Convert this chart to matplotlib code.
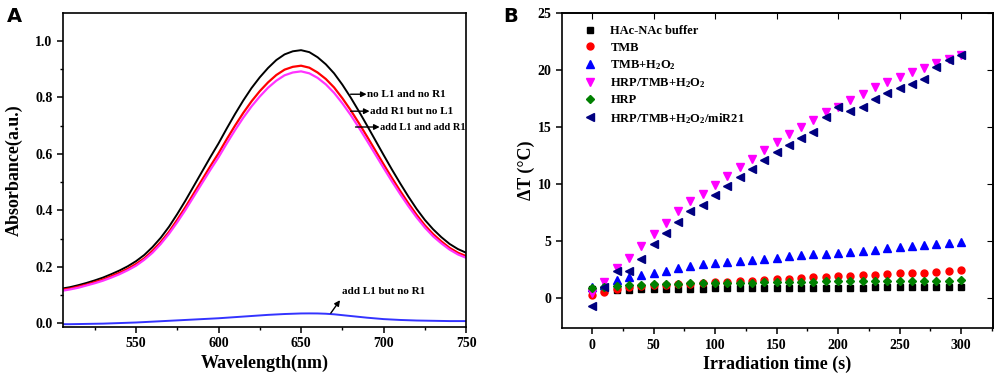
import numpy as np
import matplotlib
matplotlib.use("Agg")
import matplotlib.pyplot as plt
from matplotlib.ticker import MultipleLocator

plt.rcParams.update({"font.family": "Liberation Serif", "font.weight": "bold",
                     "axes.labelweight": "bold", "mathtext.fontset": "custom",
                     "mathtext.rm": "Liberation Serif:bold", "mathtext.default": "rm",
                     "axes.linewidth": 1.2})

# ---- panel A: absorbance spectra (every 5 nm) ----
wl = [506] + list(range(510, 751, 5))
abs_none = [0.124, 0.128, 0.135, 0.143, 0.152, 0.162, 0.174, 0.187, 0.202, 0.220,
            0.242, 0.270, 0.303, 0.342, 0.387, 0.435, 0.486, 0.537, 0.588, 0.637,
            0.690, 0.741, 0.789, 0.833, 0.871, 0.904, 0.932, 0.952, 0.963, 0.967,
            0.960, 0.942, 0.917, 0.885, 0.845, 0.800, 0.751, 0.700, 0.648, 0.596,
            0.545, 0.496, 0.449, 0.405, 0.366, 0.333, 0.305, 0.281, 0.263, 0.250]
abs_r1 = [0.120, 0.123, 0.130, 0.137, 0.146, 0.155, 0.167, 0.179, 0.193, 0.210,
          0.230, 0.257, 0.288, 0.324, 0.367, 0.412, 0.460, 0.508, 0.556, 0.602,
          0.652, 0.700, 0.745, 0.786, 0.822, 0.853, 0.879, 0.898, 0.908, 0.912,
          0.905, 0.888, 0.865, 0.835, 0.797, 0.755, 0.709, 0.661, 0.612, 0.563,
          0.515, 0.469, 0.425, 0.384, 0.347, 0.316, 0.290, 0.267, 0.250, 0.238]
abs_l1r1 = [0.116, 0.120, 0.126, 0.134, 0.142, 0.151, 0.162, 0.174, 0.188, 0.204,
            0.225, 0.250, 0.281, 0.317, 0.358, 0.402, 0.449, 0.496, 0.543, 0.588,
            0.637, 0.684, 0.728, 0.768, 0.803, 0.834, 0.859, 0.878, 0.888, 0.892,
            0.885, 0.869, 0.846, 0.816, 0.779, 0.738, 0.693, 0.646, 0.598, 0.550,
            0.503, 0.458, 0.415, 0.375, 0.339, 0.308, 0.283, 0.261, 0.244, 0.232]
abs_l1 = [-0.003, -0.003, -0.0025, -0.002, -0.0015, -0.001, 0.0, 0.001, 0.002, 0.003,
          0.0045, 0.006, 0.0075, 0.009, 0.0105, 0.012, 0.0135, 0.015, 0.0165, 0.018,
          0.020, 0.022, 0.024, 0.026, 0.028, 0.030, 0.0315, 0.033, 0.034, 0.035,
          0.0352, 0.035, 0.034, 0.032, 0.029, 0.026, 0.023, 0.020, 0.0175, 0.015,
          0.0135, 0.012, 0.011, 0.010, 0.0095, 0.009, 0.0085, 0.008, 0.008, 0.008]

# ---- panel B: temperature rise ----
t = list(range(0, 301, 10))
buffer = [0.75, 0.7, 0.72, 0.74, 0.76, 0.78, 0.8, 0.8, 0.82, 0.82, 0.84, 0.85, 0.86,
          0.87, 0.88, 0.88, 0.89, 0.9, 0.9, 0.9, 0.91, 0.92, 0.92, 0.95, 0.96, 0.96,
          0.97, 0.97, 0.97, 0.98, 0.98]
tmb = [0.3, 0.5, 0.75, 0.95, 1.05, 1.1, 1.15, 1.2, 1.25, 1.3, 1.36, 1.4, 1.48, 1.52,
       1.58, 1.63, 1.7, 1.75, 1.8, 1.83, 1.92, 1.95, 2.0, 2.02, 2.13, 2.17, 2.2, 2.22,
       2.32, 2.33, 2.45]
tmb_h2o2 = [0.95, 1.15, 1.55, 1.8, 2.0, 2.2, 2.4, 2.6, 2.8, 3.0, 3.05, 3.15, 3.25,
            3.35, 3.45, 3.55, 3.65, 3.75, 3.85, 3.85, 3.95, 4.05, 4.15, 4.25, 4.35,
            4.45, 4.55, 4.65, 4.75, 4.85, 4.95]
hrp_tmb = [0.45, 1.4, 2.6, 3.5, 4.6, 5.6, 6.6, 7.6, 8.5, 9.1, 9.9, 10.7, 11.5, 12.2,
           13.0, 13.7, 14.4, 15.0, 15.6, 16.3, 16.8, 17.4, 17.9, 18.5, 19.0, 19.4,
           19.8, 20.2, 20.6, 21.0, 21.3]
hrp = [0.9, 1.0, 1.05, 1.1, 1.15, 1.2, 1.2, 1.25, 1.3, 1.3, 1.3, 1.35, 1.35, 1.35,
       1.4, 1.4, 1.4, 1.4, 1.4, 1.45, 1.45, 1.45, 1.45, 1.45, 1.5, 1.5, 1.5, 1.5, 1.5,
       1.5, 1.55]
hrp_mir = [-0.7, 1.0, 2.4, 2.4, 3.4, 4.7, 5.7, 6.7, 7.6, 8.2, 9.0, 9.8, 10.6, 11.3,
           12.1, 12.8, 13.4, 14.0, 14.6, 15.9, 16.8, 16.4, 16.8, 17.5, 18.0, 18.4,
           18.8, 19.2, 20.3, 20.9, 21.3]

fig = plt.figure(figsize=(9.96, 3.87), dpi=100)
axA = fig.add_axes([0.0633, 0.155, 0.4047, 0.811])
axB = fig.add_axes([0.564, 0.152, 0.433, 0.814])

# panel A
axA.plot(wl, abs_none, color="black", lw=1.4)
axA.plot(wl, abs_r1, color="red", lw=1.6)
axA.plot(wl, abs_l1r1, color="#ff33ff", lw=1.6)
axA.plot(wl, abs_l1, color="#3333ff", lw=1.4)
axA.set_xlim(505.8, 750)
axA.set_ylim(-0.013, 1.098)
axA.xaxis.set_major_locator(MultipleLocator(50))
axA.xaxis.set_minor_locator(MultipleLocator(25))
axA.yaxis.set_major_locator(MultipleLocator(0.2))
axA.yaxis.set_minor_locator(MultipleLocator(0.1))
axA.set_xlabel("Wavelength(nm)", fontsize=13, labelpad=3)
axA.set_ylabel("Absorbance(a.u.)", fontsize=13, labelpad=9)

arr = dict(arrowstyle="-|>", color="black", lw=1.0, mutation_scale=8,
           shrinkA=0, shrinkB=0)
notes = [("no L1 and no R1", (680, 0.80), (690, 0.811), 8),
         ("add R1 but no L1", (680, 0.751), (691.8, 0.751), 8),
         ("add L1 and add R1", (683, 0.695), (697.9, 0.695), 7.5)]
for txt, tail, pos, fs in notes:
    axA.annotate("", xy=(pos[0] - 0.3, pos[1]), xytext=(tail[0], pos[1]),
                 arrowprops=arr)
    axA.text(pos[0], pos[1], txt, fontsize=fs, va="center", ha="left")
axA.annotate("", xy=(673.6, 0.082), xytext=(668, 0.036), arrowprops=arr)
axA.text(674.8, 0.114, "add L1 but no R1", fontsize=8, va="center", ha="left")

# panel B
series = [(buffer, "s", "black", "HAc-NAc buffer", 4.5),
          (tmb, "o", "red", "TMB", 5),
          (tmb_h2o2, "^", "blue", "TMB+H$_2$O$_2$", 6.3),
          (hrp_tmb, "v", "magenta", "HRP/TMB+H$_2$O$_2$", 6.3),
          (hrp, "D", "green", "HRP", 4.3),
          (hrp_mir, "<", "navy", "HRP/TMB+H$_2$O$_2$/miR21", 6.3)]
for y, m, c, lab, ms in series:
    axB.plot(t, y, m, color=c, ms=ms, ls="none", label=lab)
axB.set_xlim(-24.6, 326)
axB.set_ylim(-2.65, 25)
axB.xaxis.set_major_locator(MultipleLocator(50))
axB.xaxis.set_minor_locator(MultipleLocator(25))
axB.yaxis.set_major_locator(MultipleLocator(5))
axB.set_xlabel("Irradiation time (s)", fontsize=13, labelpad=3)
axB.set_ylabel("ΔT (°C)", fontsize=13, labelpad=2)
axB.legend(loc="upper left", bbox_to_anchor=(0.02, 0.985), frameon=False,
           fontsize=9, handletextpad=0.6, labelspacing=0.35, borderaxespad=0.2)
top = axB.secondary_xaxis("top")
top.xaxis.set_major_locator(MultipleLocator(50))
top.tick_params(direction="in", labeltop=False, length=4)
right = axB.secondary_yaxis("right")
right.yaxis.set_major_locator(MultipleLocator(5))
right.tick_params(direction="in", labelright=False, length=4)

for ax in (axA, axB):
    ax.tick_params(which="major", direction="out", length=4, width=1.1, labelsize=10)
    ax.tick_params(which="minor", direction="out", length=2.5, width=1.0)
    for lb in ax.get_xticklabels() + ax.get_yticklabels():
        lb.set_fontweight("bold")

fig.text(0.007, 0.982, "A", fontsize=14, fontweight="bold", family="DejaVu Sans", va="top")
fig.text(0.505, 0.982, "B", fontsize=14, fontweight="bold", family="DejaVu Sans", va="top")

fig.savefig("out.png", dpi=100)
